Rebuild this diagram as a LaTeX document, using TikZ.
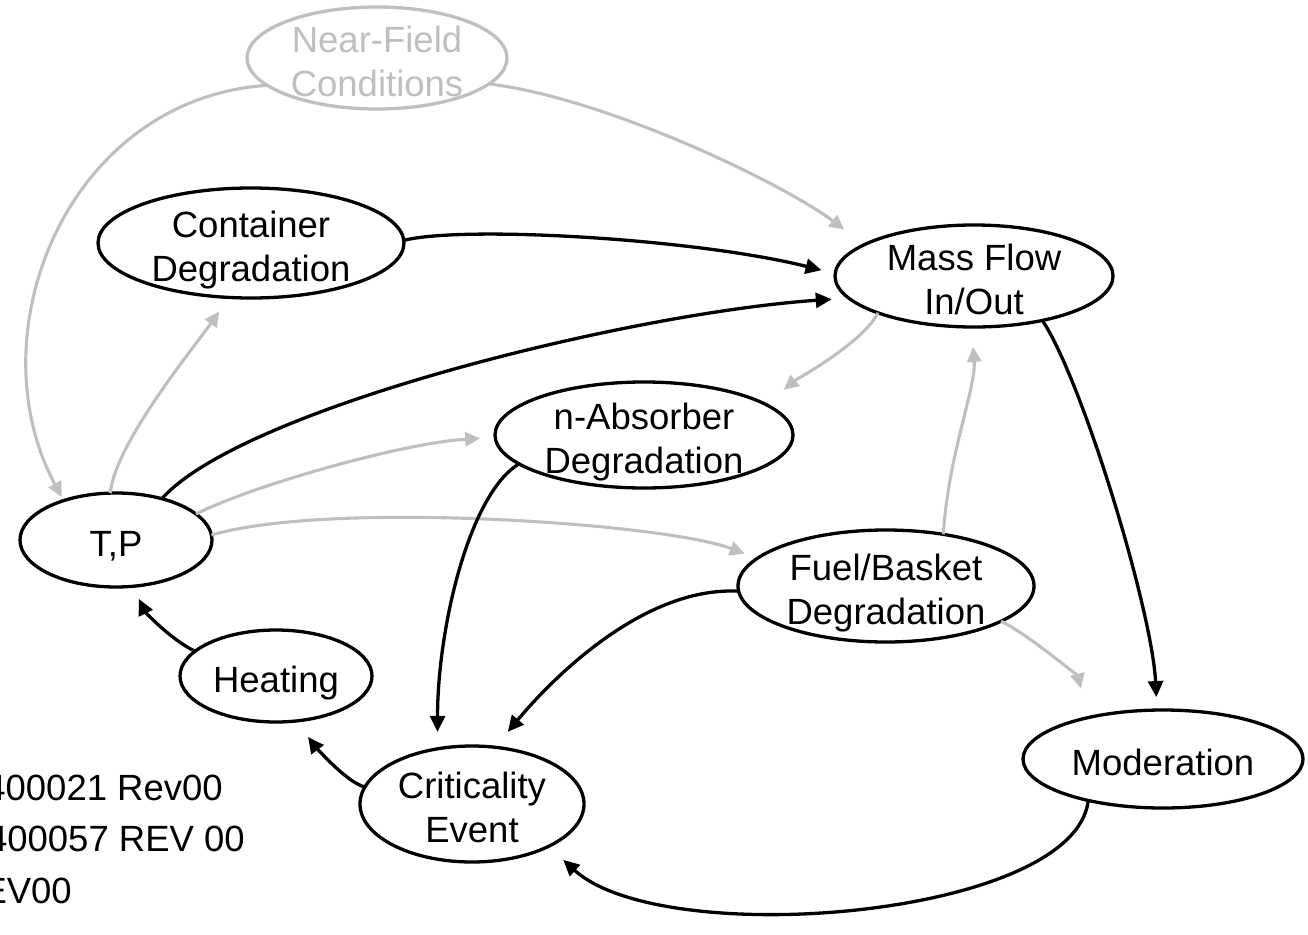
\documentclass[tikz,border=0pt]{standalone}
\usepackage{fontspec}
\setmainfont{Liberation Sans}
\usetikzlibrary{shapes.geometric,arrows.meta}
\definecolor{lg}{RGB}{191,191,191}
\newcommand{\nlab}[1]{\makebox[0pt]{\raisebox{-0.37em}[0pt][0pt]{\begin{tabular}{@{}c@{}}#1\end{tabular}}}}
\begin{document}
\begin{tikzpicture}[x=1pt,y=-1pt,
  every node/.style={font=\fontsize{36.5}{44}\selectfont},
  st/.style={ellipse,draw=black,line width=3.3pt,fill=white,inner sep=0pt,outer sep=0pt},
  gst/.style={st,draw=lg,text=lg},
  bl/.style={draw=black,line width=3.3pt,-{Triangle[length=16pt,width=15pt]}},
  gr/.style={draw=lg,line width=3.1pt,-{Triangle[length=15pt,width=14pt]}},
  doc/.style={anchor=base east,inner sep=0pt}]
\useasboundingbox (0,0) rectangle (1308,934);
\clip (0,0) rectangle (1308,934);
% nodes
\node[gst,minimum width=260pt,minimum height=102pt] (nf) at (377,58) {\nlab{Near-Field\\Conditions}};
\node[st,minimum width=306pt,minimum height=110pt] (cd) at (251,243) {\nlab{Container\\Degradation}};
\node[st,minimum width=278pt,minimum height=102pt] (mf) at (974,276) {\nlab{Mass Flow\\In/Out}};
\node[st,minimum width=298pt,minimum height=106pt] (na) at (644,435) {\nlab{n-Absorber\\Degradation}};
\node[st,minimum width=192pt,minimum height=94pt] (tp) at (116,540) {\nlab{T,P}};
\node[st,minimum width=192pt,minimum height=92pt] (he) at (276,676) {\nlab{Heating}};
\node[st,minimum width=296pt,minimum height=112pt] (fb) at (886,586) {\nlab{Fuel/Basket\\Degradation}};
\node[st,minimum width=280pt,minimum height=98pt] (mo) at (1163,759) {\nlab{Moderation}};
\node[st,minimum width=224pt,minimum height=116pt] (cr) at (472,804) {\nlab{Criticality\\Event}};
% document labels (cut at the left edge, as in the reference)
\node[doc] (d1) at (223,800) {400021 Rev00};
\node[doc] (d2) at (245,851) {400057 REV 00};
\node[doc] (d3) at (72,903) {REV00};
% grey connectors
\draw[gr,shorten >=4pt] (nf.194) .. controls +(-200,13) and +(-90,-167) .. (tp.143);
\draw[gr,shorten >=25pt] (nf.347) .. controls +(120,15) and +(-80,-60) .. (mf.164);
\draw[gr,shorten >=17pt] (tp.97) .. controls +(5,-50) and +(-35,50) .. (cd.248);
\draw[gr,shorten >=23pt] (mf.201) .. controls +(-15,30) and +(30,-25) .. (na.14);
\draw[gr,shorten >=15pt] (tp.18) .. controls +(60,-30) and +(-90,5) .. (na.181);
\draw[gr,shorten >=13pt] (tp.3) .. controls +(120,-35) and +(-90,-35) .. (fb.168);
\draw[gr,shorten >=20pt] (fb.42) .. controls +(5,-80) and +(5,60) .. (mf.267);
\draw[gr,shorten >=30pt] (fb.343) .. controls +(30,15) and +(-10,-40) .. (mo.151);
% black connectors
\draw[bl,shorten >=14pt] (cd.1) .. controls +(60,-15) and +(-140,-35) .. (mf.179);
\draw[bl,shorten >=17pt] (tp.42) .. controls +(80,-90) and +(-220,15) .. (mf.190);
\draw[bl,shorten >=13pt] (mf.327) .. controls +(40,60) and +(-5,-100) .. (mo.97);
\draw[bl,shorten >=17pt] (na.193) .. controls +(-50,30) and +(0,-120) .. (cr.122);
\draw[bl,shorten >=20pt] (fb.182) .. controls +(-100,-5) and +(50,-60) .. (cr.68);
\draw[bl,shorten >=20pt] (mo.209) .. controls +(-13,117) and +(115,105) .. (cr.331);
\draw[bl,shorten >=20pt] (cr.171) .. controls +(-20,-5) and +(15,20) .. (he.294);
\draw[bl,shorten >=14pt] (he.163) .. controls +(-25,-12) and +(12,25) .. (tp.290);
\end{tikzpicture}
\end{document}
